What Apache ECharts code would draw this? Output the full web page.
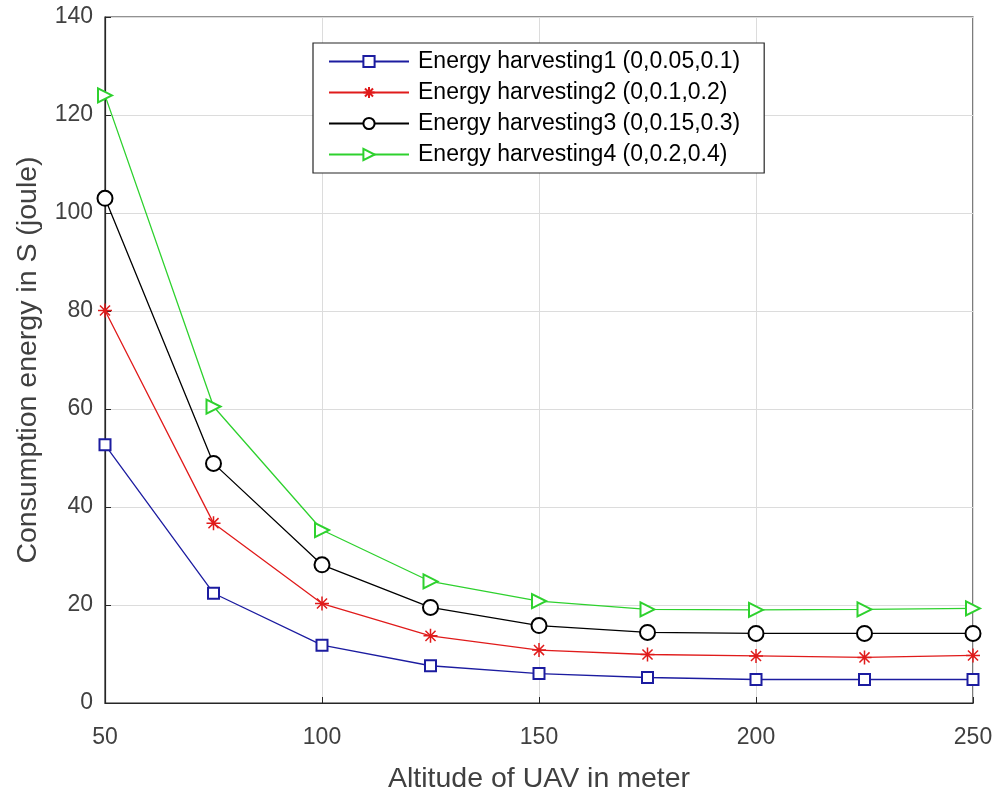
<!DOCTYPE html>
<html>
<head>
<meta charset="utf-8">
<script src="https://cdn.jsdelivr.net/npm/echarts@6/dist/echarts.min.js"></script>
<style>
html,body{margin:0;padding:0;background:#fff;}
#main{width:998px;height:791px;}
</style>
</head>
<body>
<div id="main"></div>
<script>
var altitudes = [50, 75, 100, 125, 150, 175, 200, 225, 250];
var eh1 = [52.7, 22.4, 11.8, 7.6, 6.0, 5.2, 4.8, 4.8, 4.8];
var eh2 = [80.1, 36.7, 20.3, 13.7, 10.8, 9.9, 9.6, 9.3, 9.7];
var eh3 = [103.0, 48.9, 28.2, 19.5, 15.8, 14.4, 14.2, 14.2, 14.2];
var eh4 = [124.0, 60.5, 35.3, 24.8, 20.8, 19.1, 19.0, 19.1, 19.3];
var seriesNames = [
  'Energy harvesting1 (0,0.05,0.1)',
  'Energy harvesting2 (0,0.1,0.2)',
  'Energy harvesting3 (0,0.15,0.3)',
  'Energy harvesting4 (0,0.2,0.4)'
];
var xTitle = 'Altitude of UAV in meter';
var yTitle = 'Consumption energy in S (joule)';

function pairs(ys){ return altitudes.map(function(x,i){ return [x, ys[i]]; }); }

var starPath = 'path://M5,0L5,10M0,5L10,5M1.4,1.4L8.6,8.6M1.4,8.6L8.6,1.4';

var chart = echarts.init(document.getElementById('main'), null, {renderer:'canvas'});
var FF = 'Liberation Sans, Arial, sans-serif';
chart.setOption({
  animation:false,
  backgroundColor:'#ffffff',
  grid:{left:105, right:25, top:17, bottom:88, outerBoundsMode:'none', containLabel:false,
        show:true, borderColor:'#262626', borderWidth:1.2, backgroundColor:'transparent'},
  legend:{
    orient:'vertical', left:313, top:43,
    backgroundColor:'#fff', borderColor:'#262626', borderWidth:1.2,
    padding:[7,24,7,15], itemWidth:80, itemHeight:14, itemGap:8,
    textStyle:{fontFamily:FF, fontSize:23, lineHeight:21, color:'#000', padding:[0,0,0,4]},
    data:seriesNames
  },
  xAxis:{
    type:'value', min:50, max:250, interval:50,
    name:xTitle, nameLocation:'middle', nameGap:62,
    nameTextStyle:{fontFamily:FF, fontSize:28.5, color:'#404040'},
    axisLine:{show:true, lineStyle:{color:'#262626', width:1.2}},
    axisTick:{show:true, inside:true, length:6, lineStyle:{color:'#262626'}},
    axisLabel:{margin:23, fontFamily:FF, fontSize:23, color:'#404040'},
    splitLine:{show:true, lineStyle:{color:'#dcdcdc', width:1}}
  },
  yAxis:{
    type:'value', min:0, max:140, interval:20,
    name:yTitle, nameLocation:'middle', nameGap:62,
    nameTextStyle:{fontFamily:FF, fontSize:28.5, color:'#404040'},
    axisLine:{show:true, lineStyle:{color:'#262626', width:1.2}},
    axisTick:{show:true, inside:true, length:6, lineStyle:{color:'#262626'}},
    axisLabel:{margin:12, fontFamily:FF, fontSize:23, color:'#404040', padding:[8,0,0,0]},
    splitLine:{show:true, lineStyle:{color:'#dcdcdc', width:1}}
  },
  series:[
    {name:seriesNames[0], type:'line', data:pairs(eh1), symbol:'emptyRect', symbolSize:11,
     lineStyle:{color:'#1c1ca0', width:1.3}, itemStyle:{color:'#1c1ca0', borderColor:'#1c1ca0', borderWidth:1.5}},
    {name:seriesNames[1], type:'line', data:pairs(eh2), symbol:starPath, symbolSize:14,
     lineStyle:{color:'#e01b1b', width:1.3}, itemStyle:{color:'#e01b1b', borderColor:'#e01b1b', borderWidth:1.5}},
    {name:seriesNames[2], type:'line', data:pairs(eh3), symbol:'emptyCircle', symbolSize:15,
     lineStyle:{color:'#000000', width:1.3}, itemStyle:{color:'#000000', borderColor:'#000000', borderWidth:1.5}},
    {name:seriesNames[3], type:'line', data:pairs(eh4), symbol:'emptyTriangle', symbolRotate:-90, symbolSize:14,
     lineStyle:{color:'#2ed12e', width:1.3}, itemStyle:{color:'#2ed12e', borderColor:'#2ed12e', borderWidth:1.5}}
  ]
});
</script>
</body>
</html>
